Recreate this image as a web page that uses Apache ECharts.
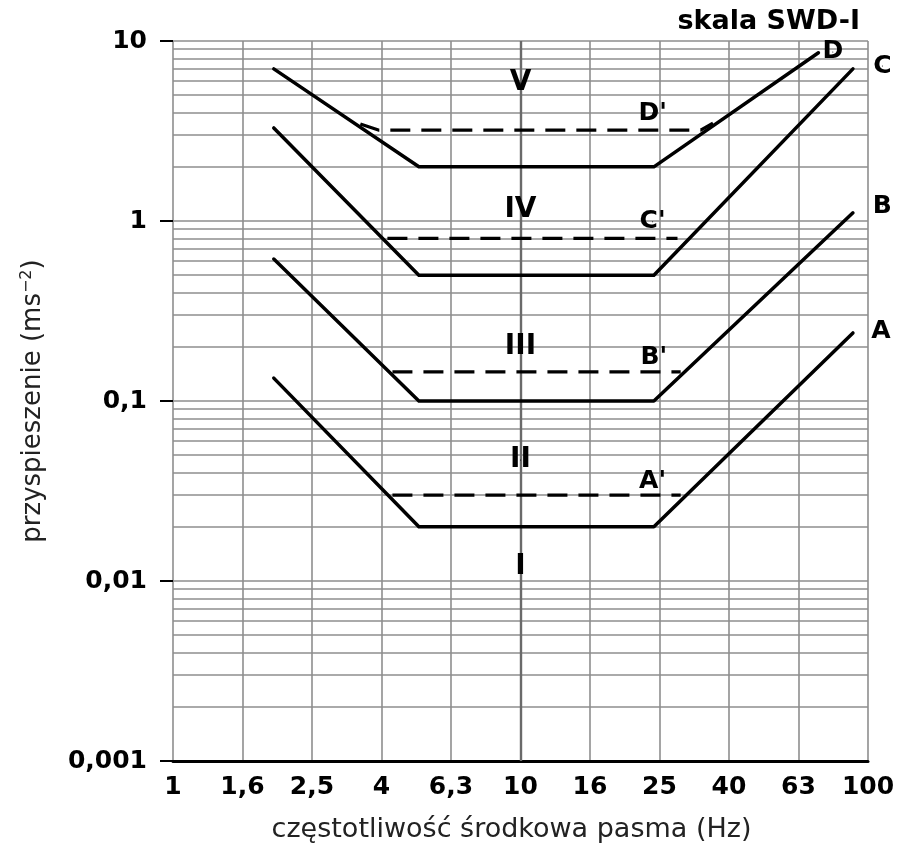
<!DOCTYPE html>
<html><head><meta charset="utf-8">
<script src="https://cdn.jsdelivr.net/npm/echarts@6/dist/echarts.min.js"></script>
<style>html,body{margin:0;padding:0;background:#fff}#c{width:898px;height:852px}</style>
</head><body><div id="c"></div>
<script>
// tick labels
const xTickLabels = ['1', '1,6', '2,5', '4', '6,3', '10', '16', '25', '40', '63', '100'];
const yTickLabels = ['0,001', '0,01', '0,1', '1', '10'];
const yMinorMultipliers = [2, 3, 4, 5, 6, 7, 8, 9];
const yDecades = [0.001, 0.01, 0.1, 1];

// solid boundary lines [Hz, m/s^2]
const lineA = [[1.95, 0.134], [5.1, 0.02], [24.2, 0.02], [90.5, 0.239]];
const lineB = [[1.95, 0.615], [5.1, 0.1], [24.2, 0.1], [90.5, 1.11]];
const lineC = [[1.95, 3.29], [5.1, 0.5], [24.2, 0.5], [90.5, 7.0]];
const lineD = [[1.95, 7.0], [5.1, 2.0], [24.2, 2.0], [72, 8.6]];
// dashed lines
const lineA2 = [[4.28, 0.03], [28.9, 0.03]];
const lineB2 = [[4.28, 0.145], [28.9, 0.145]];
const lineC2 = [[4.14, 0.8], [28.3, 0.8]];
const lineD2 = [[3.46, 3.46], [3.9, 3.2], [33, 3.2], [35.8, 3.5]];

// annotations [Hz, m/s^2, text]
const zoneLabels = [[10, 5.84, 'V'], [10, 1.15, 'IV'], [10, 0.2, 'III'], [10, 0.047, 'II'], [10, 0.012, 'I']];
const primeLabels = [[24.0, 3.98, "D'"], [24.0, 0.99, "C'"], [24.2, 0.175, "B'"], [24.0, 0.0355, "A'"]];
const endLabels = [[79.2, 8.69, 'D'], [110, 7.26, 'C'], [110, 1.21, 'B'], [109, 0.242, 'A']];

const minorVals = [];
yDecades.forEach(d => yMinorMultipliers.forEach(m => minorVals.push(+(d * m).toPrecision(3))));

const FONT = 'DejaVu Sans';
const gridColor = '#8e8e8e';

function solid(name, data) {
  return { name, type: 'line', data, symbol: 'none', z: 5, silent: true,
    lineStyle: { color: '#000', width: 3.5, cap: 'round', join: 'round' } };
}
function dashed(name, data) {
  return { name, type: 'line', data, symbol: 'none', z: 5, silent: true,
    lineStyle: { color: '#000', width: 3.2, type: [20, 11], cap: 'butt' } };
}
function labels(data, size) {
  return { type: 'scatter', data, symbolSize: 1, clip: false, z: 6, silent: true,
    itemStyle: { color: '#000', opacity: 1 },
    label: { show: true, position: [0.5, 0.5], align: 'center', verticalAlign: 'middle',
      formatter: p => p.data[2],
      fontFamily: FONT, fontWeight: 'bold', fontSize: size, color: '#000', opacity: 1,
      textBorderWidth: 0 } };
}

const chart = echarts.init(document.getElementById('c'), null, { renderer: 'canvas' });
chart.setOption({
  animation: false,
  backgroundColor: '#fff',
  title: { text: 'skala SWD-I', right: 33, top: 3,
    textStyle: { fontFamily: FONT, fontWeight: 'bold', fontSize: 27, color: '#000' } },
  grid: { left: 173, right: 30, top: 41, bottom: 91, containLabel: false, outerBoundsMode: 'none' },
  xAxis: {
    type: 'log', logBase: Math.pow(10, 0.2), min: 1, max: 100, splitNumber: 10,
    name: 'częstotliwość środkowa pasma (Hz)', nameLocation: 'middle', nameGap: 55,
    nameTextStyle: { fontFamily: FONT, fontSize: 27, color: '#222', padding: [0, 18, 0, 0] },
    axisLine: { show: true, lineStyle: { color: '#000', width: 3 } },
    axisTick: { show: false },
    splitLine: { show: true, lineStyle: { color: gridColor, width: 1.6 } },
    axisLabel: { margin: 14, showMinLabel: true, showMaxLabel: true, hideOverlap: false,
      fontFamily: FONT, fontWeight: 'bold', fontSize: 25, color: '#000',
      formatter: v => xTickLabels[Math.round(Math.log10(v) * 5)] }
  },
  yAxis: {
    type: 'log', logBase: 10, min: 0.001, max: 10,
    name: 'przyspieszenie (ms{sup|−2})', nameLocation: 'middle', nameGap: 126, nameRotate: 90,
    nameTextStyle: { fontFamily: FONT, fontSize: 26, color: '#222',
      rich: { sup: { fontFamily: FONT, fontSize: 16, color: '#222', padding: [0, 0, 12, 0] } } },
    axisLine: { show: false },
    axisTick: { show: true, length: 13, lineStyle: { color: '#000', width: 2 } },
    splitLine: { show: true, lineStyle: { color: gridColor, width: 1.6 } },
    axisLabel: { margin: 26, showMinLabel: true, showMaxLabel: true, hideOverlap: false,
      fontFamily: FONT, fontWeight: 'bold', fontSize: 25, color: '#000',
      formatter: v => yTickLabels[Math.round(Math.log10(v)) + 3] }
  },
  series: [
    { type: 'line', data: [], z: 1, silent: true,
      markLine: { silent: true, symbol: 'none', animation: false, precision: 8, label: { show: false },
        lineStyle: { color: gridColor, width: 1.6, type: 'solid' },
        data: minorVals.map(v => ({ yAxis: v })).concat([{ xAxis: 10, lineStyle: { color: '#6a6a6a', width: 2.4, type: 'solid' } }]) } },
    solid('A', lineA), solid('B', lineB), solid('C', lineC), solid('D', lineD),
    dashed("A'", lineA2), dashed("B'", lineB2), dashed("C'", lineC2), dashed("D'", lineD2),
    labels(zoneLabels, 28), labels(primeLabels, 25), labels(endLabels, 25)
  ]
});
</script>
</body></html>
